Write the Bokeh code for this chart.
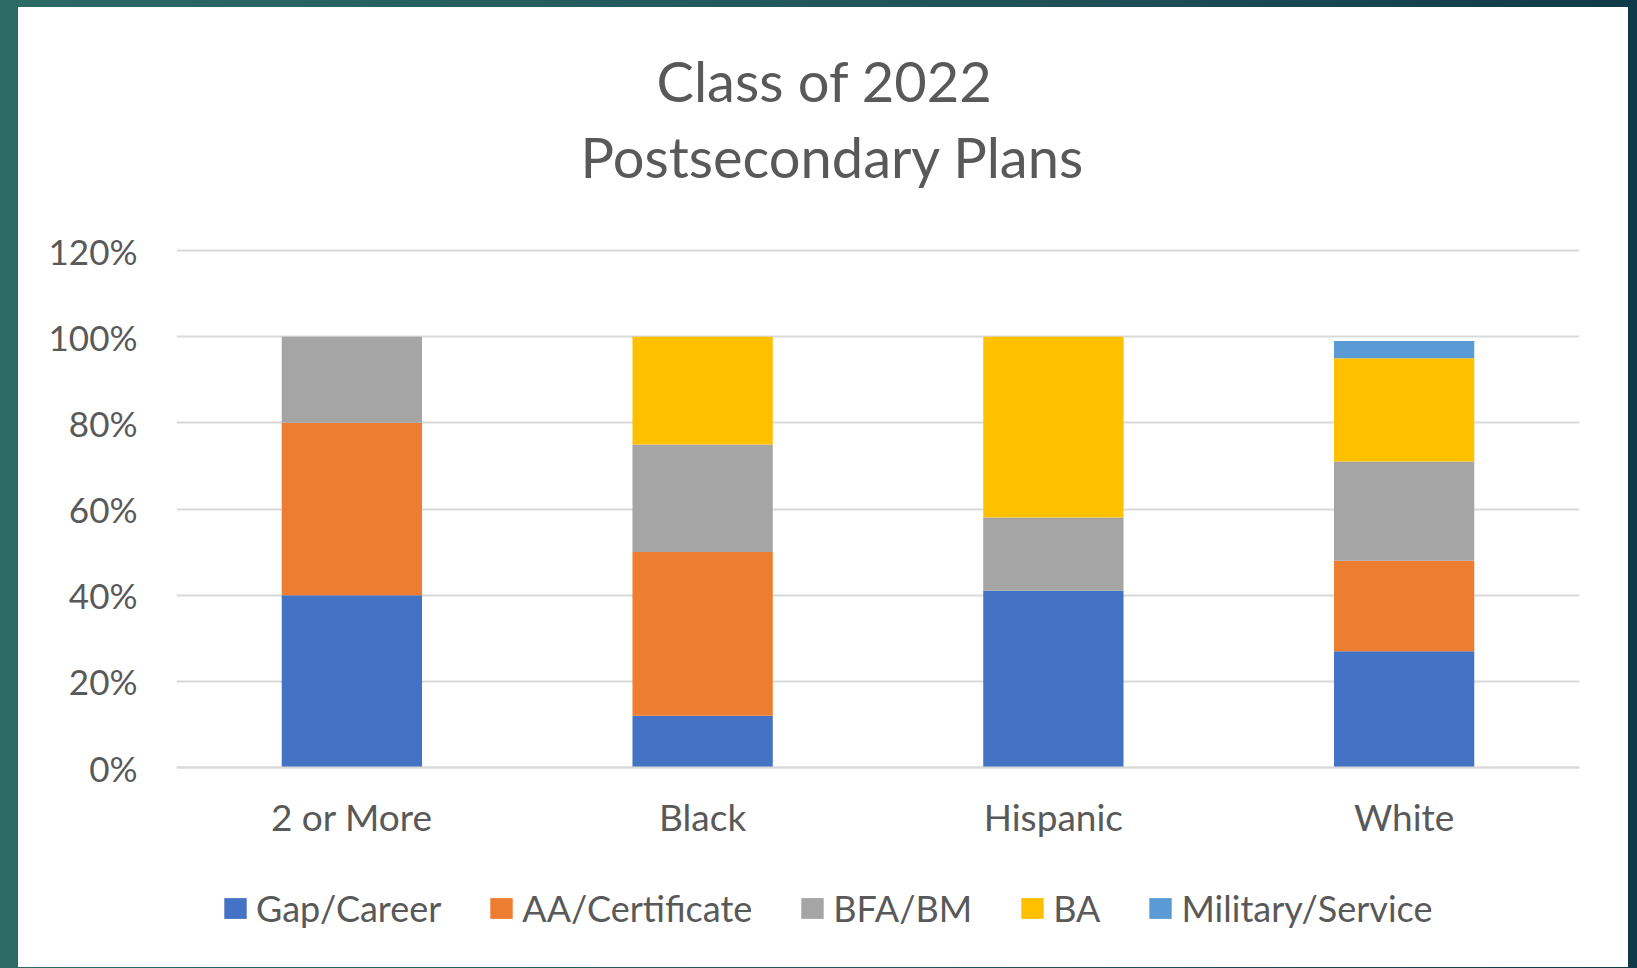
from bokeh.plotting import figure
from bokeh.models import Range1d, NumeralTickFormatter, FixedTicker, Legend, LegendItem, Title
from bokeh.embed import file_html
from bokeh.resources import INLINE

categories = ["2 or More", "Black", "Hispanic", "White"]
series_names = ["Gap/Career", "AA/Certificate", "BFA/BM", "BA", "Military/Service"]
gap_career = [0.40, 0.12, 0.41, 0.27]
aa_certificate = [0.40, 0.38, 0.00, 0.21]
bfa_bm = [0.20, 0.25, 0.17, 0.23]
ba = [0.00, 0.25, 0.42, 0.24]
military_service = [0.00, 0.00, 0.00, 0.04]
y_ticks = [0, 0.2, 0.4, 0.6, 0.8, 1.0, 1.2]
title_lines = ["Class of 2022", "Postsecondary Plans"]

colors = ["#4472C4", "#ED7D31", "#A5A5A5", "#FFC000", "#5B9BD5"]
FONT = "Lato"
TXT = "#595959"

data = dict(cat=categories, g=gap_career, a=aa_certificate, b=bfa_bm, ba=ba, m=military_service)
keys = ["g", "a", "b", "ba", "m"]

# frame extends below 0 (room for category labels and legend) and 2px above 120%
PX_PER_UNIT = 517 / 1.2
Y_MAX = 1.2 + 2 / PX_PER_UNIT
Y_MIN = -188 / PX_PER_UNIT

p = figure(x_range=categories, y_range=Range1d(Y_MIN, Y_MAX), frame_width=1403, frame_height=707,
           output_backend="svg", toolbar_location=None,
           min_border_left=158, min_border_right=49, min_border_top=241, min_border_bottom=12)
p.margin = (7, 0, 0, 18)
p.styles = {"background-color": "white"}

renderers = p.vbar_stack(keys, x="cat", width=0.4, source=data, color=colors, line_width=0)

# title lines (outermost: p.title)
p.title.text = title_lines[0]
p.title.align = "left"
p.title.offset = 480
p.title.text_font = FONT
p.title.text_font_size = "56px"
p.title.text_font_style = "normal"
p.title.text_color = TXT
p.title.standoff = 7

spacer = Title(text=" ", text_font=FONT, text_font_size="10px", text_color="white", standoff=41)
t2 = Title(text=title_lines[1], align="left", offset=404, text_font=FONT, text_font_size="56px",
           text_font_style="normal", text_color=TXT, standoff=7)
p.add_layout(spacer, "above")
p.add_layout(t2, "above")

p.outline_line_color = None
p.background_fill_color = "white"
p.border_fill_color = "white"

p.yaxis.ticker = FixedTicker(ticks=y_ticks)
p.yaxis.formatter = NumeralTickFormatter(format="0%")
p.yaxis.axis_line_color = None
p.yaxis.major_tick_line_color = None
p.yaxis.minor_tick_line_color = None
p.yaxis.major_label_text_font = FONT
p.yaxis.major_label_text_font_size = "35px"
p.yaxis.major_label_text_color = TXT
p.yaxis.major_label_standoff = 33

p.xaxis.fixed_location = 0
p.xaxis.axis_line_color = "#D9D9D9"
p.xaxis.axis_line_width = 2
p.xaxis.major_tick_line_color = None
p.xaxis.minor_tick_line_color = None
p.xaxis.major_label_text_font = FONT
p.xaxis.major_label_text_font_size = "37px"
p.xaxis.major_label_text_color = TXT
p.xaxis.major_label_standoff = 20

p.xgrid.visible = False
p.ygrid.ticker = FixedTicker(ticks=y_ticks)
p.ygrid.grid_line_color = "#D9D9D9"
p.ygrid.grid_line_width = 2

items = [LegendItem(label=n, renderers=[r]) for n, r in zip(series_names, renderers)]
legend = Legend(items=items, orientation="horizontal", location=(45, 25),
                glyph_width=28, glyph_height=26, label_standoff=7, spacing=46,
                padding=0, margin=0, border_line_color=None, background_fill_alpha=0,
                label_text_font=FONT, label_text_font_size="36px", label_text_color=TXT)
p.add_layout(legend, "center")

html = file_html(p, INLINE)
html = html.replace("<head>", "<head><style>body{background:linear-gradient(90deg,#2C6A66 0%,#1F5058 65%,#0F3A48 100%);}</style>", 1)
open("out.html", "w").write(html)
